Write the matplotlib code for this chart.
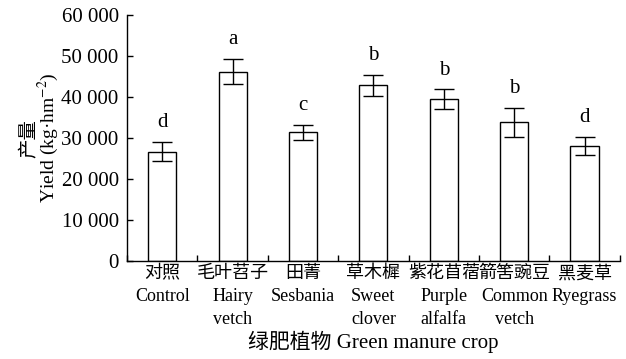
import numpy as np
import matplotlib
matplotlib.use('Agg')
import matplotlib.pyplot as plt
from matplotlib.ticker import FixedLocator, FuncFormatter

plt.rcParams['font.family'] = ['Liberation Serif', 'Noto Sans CJK SC']
plt.rcParams['mathtext.fontset'] = 'stix'

#Chart data
crops = ['对照\nControl', '毛叶苕子\nHairy\nvetch', '田菁\nSesbania', '草木樨\nSweet\nclover',
         '紫花苜蓿\nPurple\nalfalfa', '箭筈豌豆\nCommon\nvetch', '黑麦草\nRyegrass']
yields = [26700, 46200, 31400, 42900, 39500, 33800, 28100]
errors = [2400, 3100, 1900, 2600, 2400, 3600, 2200]
letters = ['d', 'a', 'c', 'b', 'b', 'b', 'd']

fig = plt.figure(figsize=(6.26, 3.59), dpi=100)
ax = fig.add_axes([0.203, 0.273, 0.787, 0.685])

x = np.arange(len(crops))
ax.bar(x, yields, width=0.4, color='white', edgecolor='black', linewidth=1.0,
       yerr=errors, capsize=7, error_kw={'elinewidth': 1.0, 'capthick': 1.0, 'ecolor': 'black'})

#Significance letters above the error bars
for i in range(len(x)):
    ax.annotate(letters[i], (x[i], yields[i] + errors[i]), xytext=(0, 7),
                textcoords='offset points', ha='center', va='bottom', fontsize=15)

ax.set_xlim(-0.5, len(crops) - 0.5)
ax.set_ylim(0, 60000)
ax.set_yticks(np.arange(0, 60001, 10000))
ax.yaxis.set_major_formatter(FuncFormatter(lambda v, p: '{:,}'.format(int(v)).replace(',', ' ')))
ax.set_xticks(x)
ax.set_xticklabels(crops, fontsize=13, linespacing=1.45)
ax.xaxis.set_minor_locator(FixedLocator(np.arange(-0.5, len(crops), 1.0)))
ax.tick_params(axis='x', which='major', length=0, pad=3)
ax.tick_params(axis='x', which='minor', direction='in', length=4, width=1.0)
ax.tick_params(axis='y', direction='in', length=4, width=1.0, labelsize=15, pad=6)

ax.spines['top'].set_visible(False)
ax.spines['right'].set_visible(False)
ax.spines['left'].set_linewidth(1.0)
ax.spines['bottom'].set_linewidth(1.0)

ax.set_xlabel('绿肥植物 Green manure crop', fontsize=15, labelpad=2)
ax.set_ylabel('产量\nYield (kg·hm$^{-2}$)', fontsize=14, labelpad=0, linespacing=0.88)

fig.savefig('out.png', dpi=100)
